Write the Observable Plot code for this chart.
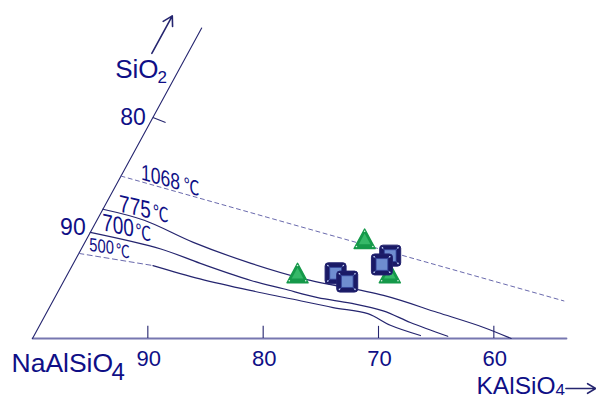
<!DOCTYPE html>
<html>
<head>
<meta charset="utf-8">
<script src="https://cdn.jsdelivr.net/npm/d3@7"></script>
<script src="https://cdn.jsdelivr.net/npm/@observablehq/plot@0.6"></script>
<style>
  html, body { margin: 0; padding: 0; background: #fff; }
  #chart svg { display: block; }
</style>
</head>
<body>
<div id="chart"></div>
<script>
// Part of the NaAlSiO4–KAlSiO4–SiO2 system (wt%).
// Each composition is [KAlSiO4, SiO2]; NaAlSiO4 is the remainder to 100.
const iso1068 = [[0, 14.7], [44.3, 3.4]];
const iso775 = [[0, 11.7], [4.1, 10.7], [9.4, 8.7], [15.4, 6.8], [20.7, 5.4], [28.4, 3.9], [33.9, 2.35], [38.6, 1.0], [41.5, 0]];
const iso700 = [[0, 9.6], [6.9, 8.1], [11.0, 6.8], [16.2, 5.25], [19.4, 4.5], [22.8, 3.7], [25.9, 3.2], [29.1, 2.5], [32.0, 1.45], [35.9, 0.2]];
const iso500Extrapolated = [[0, 7.7], [7.0, 6.6]];
const iso500 = [[7.0, 6.6], [11.7, 5.4], [16.6, 4.35], [20.5, 3.6], [24.6, 2.8], [27.9, 2.25], [30.4, 1.2], [33.5, 0.27]];
const isothermNames = ["1068", "775", "700", "500"];
const DEG_C = "\u2103";

// analysed nepheline grains
const triangleSamples = [[19.9, 5.9], [24.1, 9.0], [27.9, 5.9]];
const squareSamples = [[23.2, 5.9], [24.6, 5.15], [27.1, 7.5], [26.8, 6.7]];

// NaAlSiO4 wt% tick values
const baseTicks = [90, 80, 70, 60];
const sideTicks = [90, 80];
const sideTickMarks = [80];

// ---- projection: KAlSiO4 runs to the right, SiO2 leans toward the apex
const SHEAR = 0.522;
const BASE_END = 46.3;
const SIDE_TOP = 28.1;
const at = (k, s) => ({x: k + SHEAR * s, y: s});
const path = (arr) => arr.map(([k, s]) => at(k, s));

const ink = "#0f0f86";
const lineInk = "#25256f";
const dashInk = "#6a6aad";
const baseInk = "#7777b0";

// gem-like marker shapes (size is π·r², r is the half width)
const half = (size) => Math.sqrt(size / Math.PI);
const gemSquareOuter = {draw(c, size) {
  const h = half(size), r = h * 0.3;
  c.moveTo(-h + r, -h);
  c.arcTo(h, -h, h, h, r);
  c.arcTo(h, h, -h, h, r);
  c.arcTo(-h, h, -h, -h, r);
  c.arcTo(-h, -h, h, -h, r);
  c.closePath();
}};
const gemSquareInner = {draw(c, size) {
  const h = half(size) * 0.56;
  c.moveTo(-h, -h); c.lineTo(h, -h); c.lineTo(h, h); c.lineTo(-h, h); c.closePath();
}};
const gemSquareFacets = {draw(c, size) {
  const h = half(size), o = h * 0.8, i = h * 0.56;
  for (const [sx, sy] of [[-1, -1], [1, -1], [1, 1], [-1, 1]]) {
    c.moveTo(sx * o, sy * o); c.lineTo(sx * i, sy * i);
  }
}};
const gemSquareSparkle = {draw(c, size) {
  const h = half(size) * 0.74;
  for (const [sx, sy] of [[-1, -1], [1, -1], [1, 1], [-1, 1]]) {
    c.moveTo(sx * h + 0.8, sy * h); c.arc(sx * h, sy * h, 0.8, 0, 2 * Math.PI);
  }
}};
const triPts = (h, k) => [[0, -h * k], [1.05 * h * k, 0.95 * h * k], [-1.05 * h * k, 0.95 * h * k]];
const gemTriangle = (k) => ({draw(c, size) {
  const p = triPts(half(size), k);
  c.moveTo(...p[0]); c.lineTo(...p[1]); c.lineTo(...p[2]); c.closePath();
}});
const gemTriangleSparkle = {draw(c, size) {
  for (const [x, y] of triPts(half(size), 0.78)) {
    c.moveTo(x + 0.8, y); c.arc(x, y, 0.8, 0, 2 * Math.PI);
  }
}};

const squarePoints = path(squareSamples);
const triPoints = path(triangleSamples);

// isotherm labels, anchored on the start of each curve; the glyphs stay upright
// while the baseline steps down along the curve (a vertical shear)
const isoStarts = [iso1068[0], iso775[0], iso700[0], iso500Extrapolated[0]].map(([k, s]) => at(k, s));
const isoLabelStyle = [
  {num: [39.5, 1.5], deg: [70.5, 11.5], slope: 15, size: 18.5, degSize: 16.5},
  {num: [32, -2], deg: [58, 5.5], slope: 13, size: 20, degSize: 16.5},
  {num: [27.7, -6.5], deg: [53, 1], slope: 12, size: 20, degSize: 16.5},
  {num: [22.7, -7], deg: [44, -1.5], slope: 8, size: 15.5, degSize: 14.5}
];
const isoLabelMarks = isothermNames.flatMap((name, i) => {
  const st = isoLabelStyle[i];
  return [
    Plot.text([isoStarts[i]], {x: "x", y: "y", text: () => name, dx: st.num[0], dy: st.num[1],
      fontSize: st.size, fill: ink, textAnchor: "middle", lineAnchor: "middle"}),
    Plot.text([isoStarts[i]], {x: "x", y: "y", text: () => DEG_C, dx: st.deg[0], dy: st.deg[1],
      fontSize: st.degSize, fill: ink, textAnchor: "middle", lineAnchor: "middle",
      fontFamily: "'Noto Sans CJK SC', 'DejaVu Sans', sans-serif"})
  ];
});

const chart = Plot.plot({
  width: 596,
  height: 395,
  marginLeft: 32,
  marginRight: 30,
  marginTop: 6.5,
  marginBottom: 57,
  x: {domain: [0, BASE_END], axis: null},
  y: {domain: [0, 30], axis: null},
  style: {fontFamily: "'Liberation Sans', Arial, sans-serif", background: "#fff", overflow: "visible"},
  marks: [
    // triangle sides
    Plot.line(path([[0, 0], [BASE_END, 0]]), {x: "x", y: "y", stroke: baseInk, strokeWidth: 1.8}),
    Plot.line(path([[0, 0], [0, SIDE_TOP]]), {x: "x", y: "y", stroke: lineInk, strokeWidth: 1.1}),
    Plot.ruleX(baseTicks, {x: (d) => 100 - d, y1: 0, y2: 1.1, stroke: lineInk, strokeWidth: 1.1}),
    Plot.link(sideTickMarks, {
      x1: (d) => at(0, 100 - d).x, y1: (d) => 100 - d,
      x2: (d) => at(0, 100 - d).x + 1.1, y2: (d) => 100 - d - 0.45,
      stroke: lineInk, strokeWidth: 1.1
    }),

    // isotherms
    Plot.line(path(iso1068), {x: "x", y: "y", stroke: dashInk, strokeWidth: 1, strokeDasharray: "4,3.5"}),
    Plot.line(path(iso775), {x: "x", y: "y", stroke: lineInk, strokeWidth: 1.2, curve: "catmull-rom"}),
    Plot.line(path(iso700), {x: "x", y: "y", stroke: lineInk, strokeWidth: 1.2, curve: "catmull-rom"}),
    Plot.line(path(iso500Extrapolated), {x: "x", y: "y", stroke: dashInk, strokeWidth: 1, strokeDasharray: "5,3.5"}),
    Plot.line(path(iso500), {x: "x", y: "y", stroke: lineInk, strokeWidth: 1.2, curve: "catmull-rom"}),

    // axis labels
    Plot.text(baseTicks, {x: (d) => 100 - d, y: 0, text: (d) => String(d), dx: 1, dy: 27,
      fontSize: 22, fill: ink, textAnchor: "middle", lineAnchor: "bottom"}),
    Plot.text(sideTicks, {x: (d) => at(0, 100 - d).x, y: (d) => 100 - d, text: (d) => String(d),
      dx: -7, dy: 7, fontSize: 23, fill: ink, textAnchor: "end", lineAnchor: "bottom"}),
    Plot.text([at(0, 0)], {x: "x", y: "y", text: () => "NaAlSiO", dx: -21, dy: 33,
      fontSize: 26.5, fill: ink, textAnchor: "start", lineAnchor: "bottom"}),
    Plot.text([at(0, 0)], {x: "x", y: "y", text: () => "4", dx: 79, dy: 41,
      fontSize: 24, fill: ink, textAnchor: "start", lineAnchor: "bottom"}),
    Plot.text([at(BASE_END, 0)], {x: "x", y: "y", text: () => "KAlSiO", dx: -90, dy: 55.5,
      fontSize: 24.5, fill: ink, textAnchor: "start", lineAnchor: "bottom"}),
    Plot.text([at(BASE_END, 0)], {x: "x", y: "y", text: () => "4", dx: -11, dy: 57.5,
      fontSize: 17, fill: ink, textAnchor: "start", lineAnchor: "bottom"}),
    Plot.arrow([0], {x1: BASE_END - 0.05, y1: 0, x2: BASE_END + 2.55, y2: 0, dy: 50,
      stroke: lineInk, strokeWidth: 1.6, headLength: 9}),
    Plot.text([at(0, 23.6)], {x: "x", y: "y", text: () => "SiO", dx: -16, dy: 0,
      fontSize: 26, fill: ink, textAnchor: "end", lineAnchor: "bottom"}),
    Plot.text([at(0, 23.6)], {x: "x", y: "y", text: () => "2", dx: -17, dy: 5,
      fontSize: 17, fill: ink, textAnchor: "start", lineAnchor: "bottom"}),
    Plot.arrow([0], {x1: at(0, 25.8).x, y1: 25.8, x2: at(0, 29.2).x, y2: 29.2, dx: -36,
      stroke: lineInk, strokeWidth: 1.6, headLength: 10}),

    ...isoLabelMarks,

    // green triangle grains
    Plot.dot(triPoints, {x: "x", y: "y", r: 10, symbol: gemTriangle(1), fill: "#15994a",
      stroke: "#15994a", strokeWidth: 1.5, strokeLinejoin: "round"}),
    Plot.dot(triPoints, {x: "x", y: "y", r: 10, symbol: gemTriangle(0.55), fill: "#35b868", stroke: "none"}),
    Plot.dot(triPoints, {x: "x", y: "y", r: 10, symbol: gemTriangleSparkle, fill: "#d9f2e2", stroke: "none"}),

    // blue square grains, drawn one at a time so the overlaps stack
    ...[0, 1, 2, 3].flatMap((i) => {
      const p = [squarePoints[i]];
      return [
        Plot.dot(p, {x: "x", y: "y", r: 10.5, symbol: gemSquareOuter, fill: "#1a1a66", stroke: "#22226f", strokeWidth: 1}),
        Plot.dot(p, {x: "x", y: "y", r: 10.5, symbol: gemSquareFacets, fill: "none", stroke: "#4e63b4", strokeWidth: 1}),
        Plot.dot(p, {x: "x", y: "y", r: 10.5, symbol: gemSquareInner, fill: "#6f8dd0", stroke: "#34449a", strokeWidth: 0.8}),
        Plot.dot(p, {x: "x", y: "y", r: 10.5, symbol: gemSquareSparkle, fill: "#c9d3f2", stroke: "none"})
      ];
    })
  ]
});

// isotherm labels: tall narrow glyphs on a sheared baseline; number then ℃, in label order
{
  let n = 0, c = 0;
  d3.select(chart).selectAll("text").each(function () {
    const t = this.textContent;
    let st = null;
    if (isothermNames.includes(t)) st = isoLabelStyle[n++];
    else if (t === DEG_C) st = isoLabelStyle[c++];
    if (!st) return;
    const base = this.getAttribute("transform") || "";
    this.setAttribute("transform", `${base} skewY(${st.slope}) scale(0.95,1.22)`);
  });
}

document.getElementById("chart").appendChild(chart);
</script>
</body>
</html>
